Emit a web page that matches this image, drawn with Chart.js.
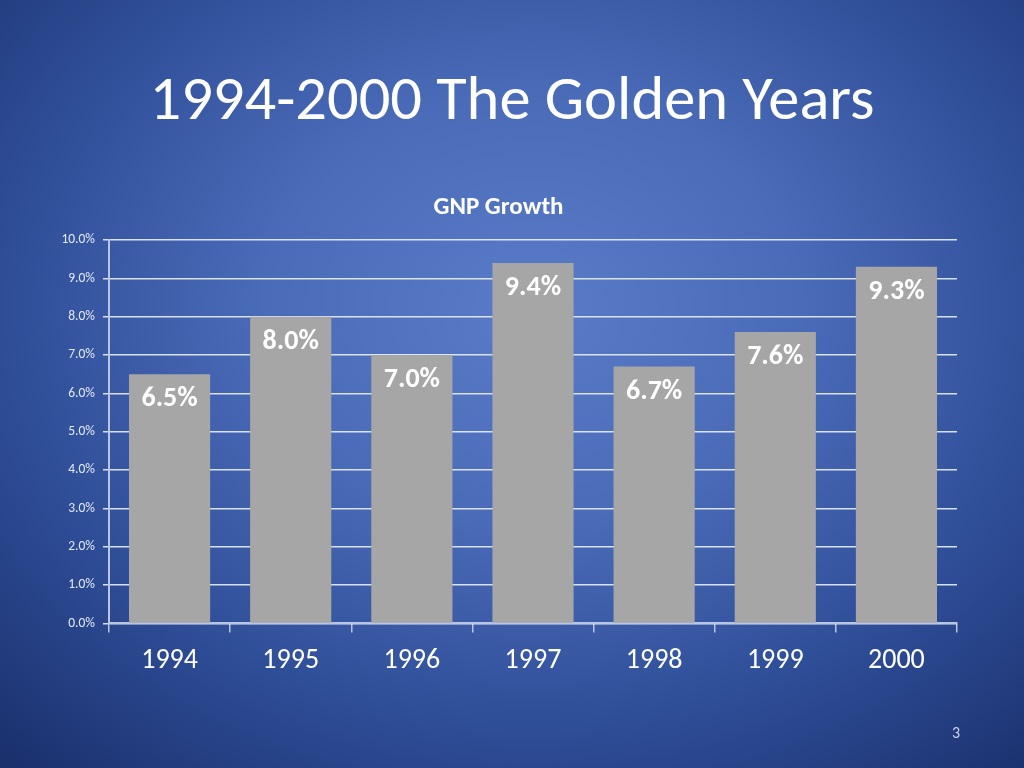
<!DOCTYPE html>
<html>
<head>
<meta charset="utf-8">
<script src="https://cdn.jsdelivr.net/npm/chart.js@4"></script>
<style>
  html, body { margin: 0; padding: 0; }
  body {
    width: 1024px; height: 768px; overflow: hidden; position: relative;
    background: radial-gradient(ellipse 75% 80% at 52% 40%, #5a7cc8 0%, #4a6bb8 35%, #2f4e98 68%, #1b316e 100%);
    font-family: Carlito, Calibri, Lato, sans-serif;
  }
  h1 {
    position: absolute; left: 0; top: 58px; width: 1024px; margin: 0;
    text-align: center; color: #ffffff; font-weight: normal; font-size: 62.5px; line-height: 80px;
  }
  .page { position: absolute; left: 952px; top: 723px; color: #c8d2ea; font-size: 16px; }
  #wrap { position: absolute; left: 0; top: 0; width: 1024px; height: 768px; }
</style>
</head>
<body>
<h1>1994-2000 The Golden Years</h1>
<div id="wrap"><canvas id="myChart"></canvas></div>
<div class="page">3</div>
<script>
// GNP growth per year, in percent
var years = ['1994', '1995', '1996', '1997', '1998', '1999', '2000'];
var growth = [6.5, 8.0, 7.0, 9.4, 6.7, 7.6, 9.3];

var fontFam = 'Carlito, Calibri, Lato, sans-serif';

// labels drawn inside the top of each bar
var barLabels = {
  id: 'barLabels',
  afterDatasetsDraw: function(chart) {
    var ctx = chart.ctx;
    var meta = chart.getDatasetMeta(0);
    ctx.save();
    ctx.fillStyle = '#ffffff';
    ctx.font = 'bold 28px ' + fontFam;
    ctx.textAlign = 'center';
    ctx.textBaseline = 'middle';
    meta.data.forEach(function(bar, i) {
      ctx.fillText(growth[i].toFixed(1) + '%', bar.x, bar.y + 25);
    });
    ctx.restore();
  }
};

var ctx = document.getElementById('myChart').getContext('2d');
var myChart = new Chart(ctx, {
  type: 'bar',
  data: {
    labels: years,
    datasets: [{
      label: 'GNP Growth',
      data: growth,
      backgroundColor: '#a6a6a6',
      borderWidth: 0,
      categoryPercentage: 1.0,
      barPercentage: 0.67
    }]
  },
  options: {
    responsive: true,
    maintainAspectRatio: false,
    animation: false,
    layout: {
      padding: { left: 40, right: 67, top: 193, bottom: 78 }
    },
    plugins: {
      legend: { display: false },
      tooltip: { enabled: false },
      title: {
        display: true,
        text: 'GNP Growth',
        color: '#ffffff',
        font: { family: fontFam, size: 25, weight: 'bold' },
        padding: { top: 0, bottom: 17 }
      }
    },
    scales: {
      x: {
        offset: true,
        grid: {
          offset: true,
          drawOnChartArea: false,
          drawTicks: true,
          tickLength: 9,
          color: '#b9c5e3',
          lineWidth: 1.5
        },
        border: { color: '#b9c5e3', width: 2 },
        ticks: {
          color: '#ffffff',
          padding: 12,
          font: { family: fontFam, size: 28 }
        }
      },
      y: {
        min: 0,
        max: 10,
        afterFit: function(scale) { scale.width = 69; },
        grid: {
          color: 'rgba(235, 240, 250, 0.9)',
          lineWidth: 1.5,
          tickLength: 6
        },
        border: { color: '#b9c5e3', width: 2 },
        ticks: {
          stepSize: 1,
          color: '#e2e8f6',
          padding: 8,
          font: { family: fontFam, size: 13.5 },
          callback: function(v) { return v.toFixed(1) + '%'; }
        }
      }
    }
  },
  plugins: [barLabels]
});
</script>
</body>
</html>
